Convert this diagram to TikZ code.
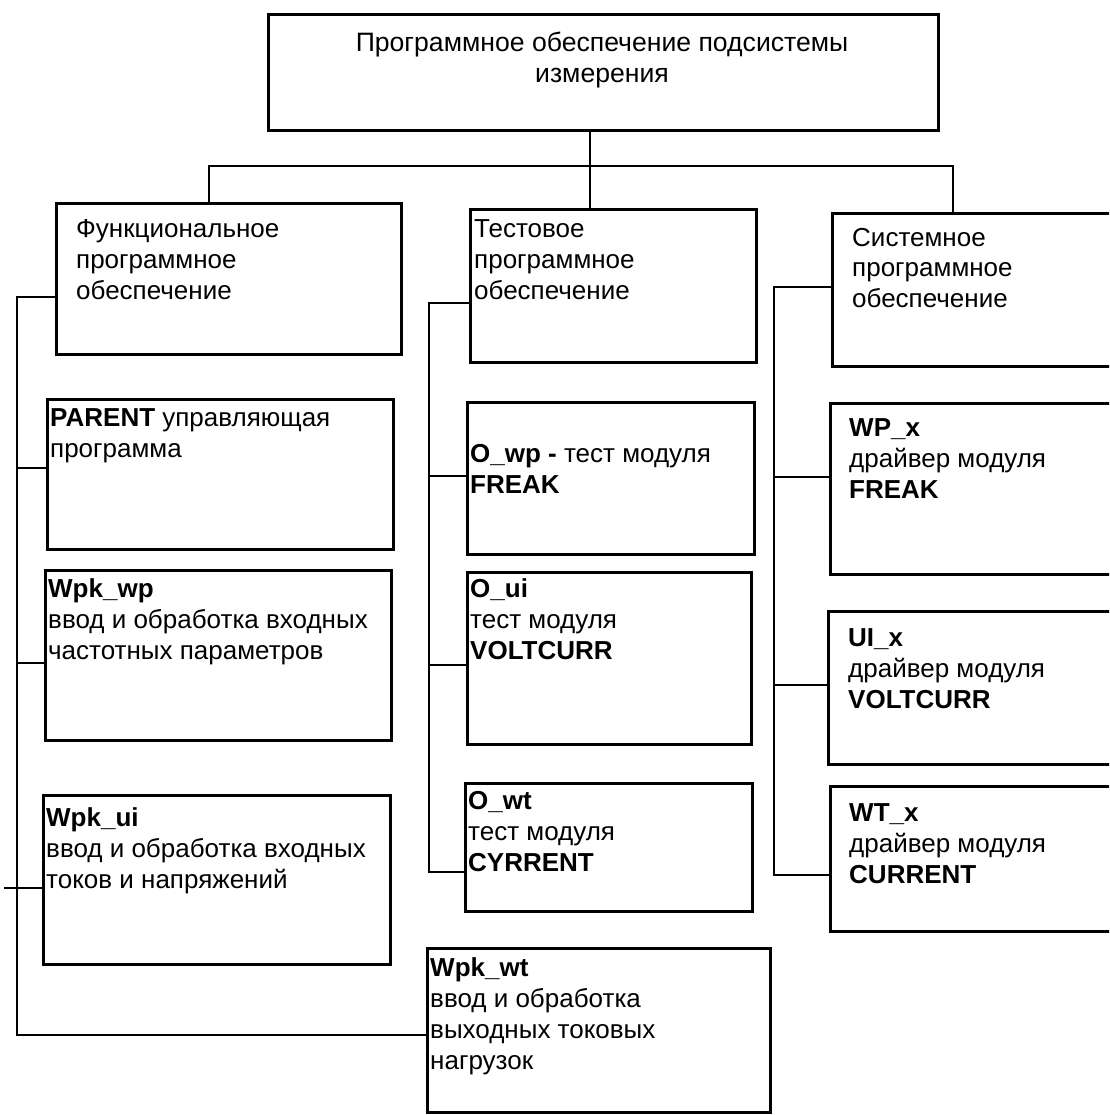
\documentclass[tikz,border=0pt]{standalone}
\usepackage{fontspec}
\setmainfont{Liberation Sans}
\newcommand{\boxlines}[1]{\begin{tabular}[t]{@{}l@{}}#1\end{tabular}}
\newcommand{\ttllines}[1]{\begin{tabular}[t]{@{}c@{}}#1\end{tabular}}
\begin{document}
\begin{tikzpicture}[x=1pt,y=-1pt,
  box/.style={draw, line width=3pt, anchor=north west, inner sep=0pt},
  conn/.style={line width=2.3pt, line cap=rect},
  lbl/.style={anchor=base west, inner sep=0pt, font=\fontsize{26}{31}\selectfont},
  ttl/.style={anchor=base, inner sep=0pt, font=\fontsize{26.6}{31}\selectfont}]
\useasboundingbox (0,0) rectangle (1109,1115);
\clip (0,0) rectangle (1109,1115);
\fill[white] (0,0) rectangle (1109,1115);
% boxes
\node[box, minimum width=670, minimum height=116] (top) at (267,13) {};
\node[box, minimum width=345, minimum height=151] (func) at (55,202) {};
\node[box, minimum width=286, minimum height=153] (test) at (469,208) {};
\node[box, minimum width=300, minimum height=153] (sys) at (831,212) {};
\node[box, minimum width=346, minimum height=150] (parent) at (46,398) {};
\node[box, minimum width=346, minimum height=170] (wpkwp) at (44,569) {};
\node[box, minimum width=347, minimum height=169] (wpkui) at (42,794) {};
\node[box, minimum width=343, minimum height=164] (wpkwt) at (426,947) {};
\node[box, minimum width=287, minimum height=152] (owp) at (466,401) {};
\node[box, minimum width=284, minimum height=172] (oui) at (466,571) {};
\node[box, minimum width=287, minimum height=128] (owt) at (464,782) {};
\node[box, minimum width=300, minimum height=171] (wpx) at (829,402) {};
\node[box, minimum width=300, minimum height=153] (uix) at (827,610) {};
\node[box, minimum width=300, minimum height=145] (wtx) at (829,785) {};
% texts
\node[ttl] (ttop) at (602,52) {\ttllines{Программное обеспечение подсистемы\\измерения}};
\node[lbl] (tfunc) at (76,237) {\boxlines{Функциональное\\программное\\обеспечение}};
\node[lbl] (ttest) at (474,237) {\boxlines{Тестовое\\программное\\обеспечение}};
\node[lbl] (tsys) at (852,246) {\boxlines{Системное\\программное\\обеспечение}};
\node[lbl] (tparent) at (50,426) {\boxlines{\textbf{PARENT} управляющая\\программа}};
\node[lbl] (twpkwp) at (48,597) {\boxlines{\textbf{Wpk\_wp}\\ввод и обработка входных\\частотных параметров}};
\node[lbl] (twpkui) at (46,826) {\boxlines{\textbf{Wpk\_ui}\\ввод и обработка входных\\токов и напряжений}};
\node[lbl] (twpkwt) at (430,976) {\boxlines{\textbf{Wpk\_wt}\\ввод и обработка\\выходных токовых\\нагрузок}};
\node[lbl] (towp) at (470,462) {\boxlines{\textbf{O\_wp -} тест модуля\\\textbf{FREAK}}};
\node[lbl] (toui) at (470,597) {\boxlines{\textbf{O\_ui}\\тест модуля\\\textbf{VOLTCURR}}};
\node[lbl] (towt) at (468,809) {\boxlines{\textbf{O\_wt}\\тест модуля\\\textbf{CYRRENT}}};
\node[lbl] (twpx) at (849,436) {\boxlines{\textbf{WP\_x}\\драйвер модуля\\\textbf{FREAK}}};
\node[lbl] (tuix) at (848,646) {\boxlines{\textbf{UI\_x}\\драйвер модуля\\\textbf{VOLTCURR}}};
\node[lbl] (twtx) at (849,821) {\boxlines{\textbf{WT\_x}\\драйвер модуля\\\textbf{CURRENT}}};
% top-level connectors
\coordinate (barM) at (590,166);
\coordinate (barL) at (209,166);
\coordinate (barR) at (953,166);
\draw[conn] (top.south -| barM) -- (barM);
\draw[conn] (barL) -- (barR);
\draw[conn] (barL) -- (func.north -| barL);
\draw[conn] (barM) -- (test.north -| barM);
\draw[conn] (barR) -- (sys.north -| barR);
% functional bus
\coordinate (fb1) at (17,297);
\coordinate (fb2) at (17,1035);
\coordinate (fbP) at (17,468);
\coordinate (fbW) at (17,663);
\coordinate (fbU) at (5,888);
\draw[conn] (fb1 -| func.west) -- (fb1) -- (fb2) -- (fb2 -| wpkwt.west);
\draw[conn] (fbP) -- (fbP -| parent.west);
\draw[conn] (fbW) -- (fbW -| wpkwp.west);
\draw[conn] (fbU) -- (fbU -| wpkui.west);
% test bus
\coordinate (tb1) at (429,303);
\coordinate (tb2) at (429,872);
\coordinate (tbP) at (429,476);
\coordinate (tbU) at (429,665);
\draw[conn] (tb1 -| test.west) -- (tb1) -- (tb2) -- (tb2 -| owt.west);
\draw[conn] (tbP) -- (tbP -| owp.west);
\draw[conn] (tbU) -- (tbU -| oui.west);
% system bus
\coordinate (sb1) at (774,287);
\coordinate (sb2) at (774,875);
\coordinate (sbP) at (774,477);
\coordinate (sbU) at (774,685);
\draw[conn] (sb1 -| sys.west) -- (sb1) -- (sb2) -- (sb2 -| wtx.west);
\draw[conn] (sbP) -- (sbP -| wpx.west);
\draw[conn] (sbU) -- (sbU -| uix.west);
\end{tikzpicture}
\end{document}
